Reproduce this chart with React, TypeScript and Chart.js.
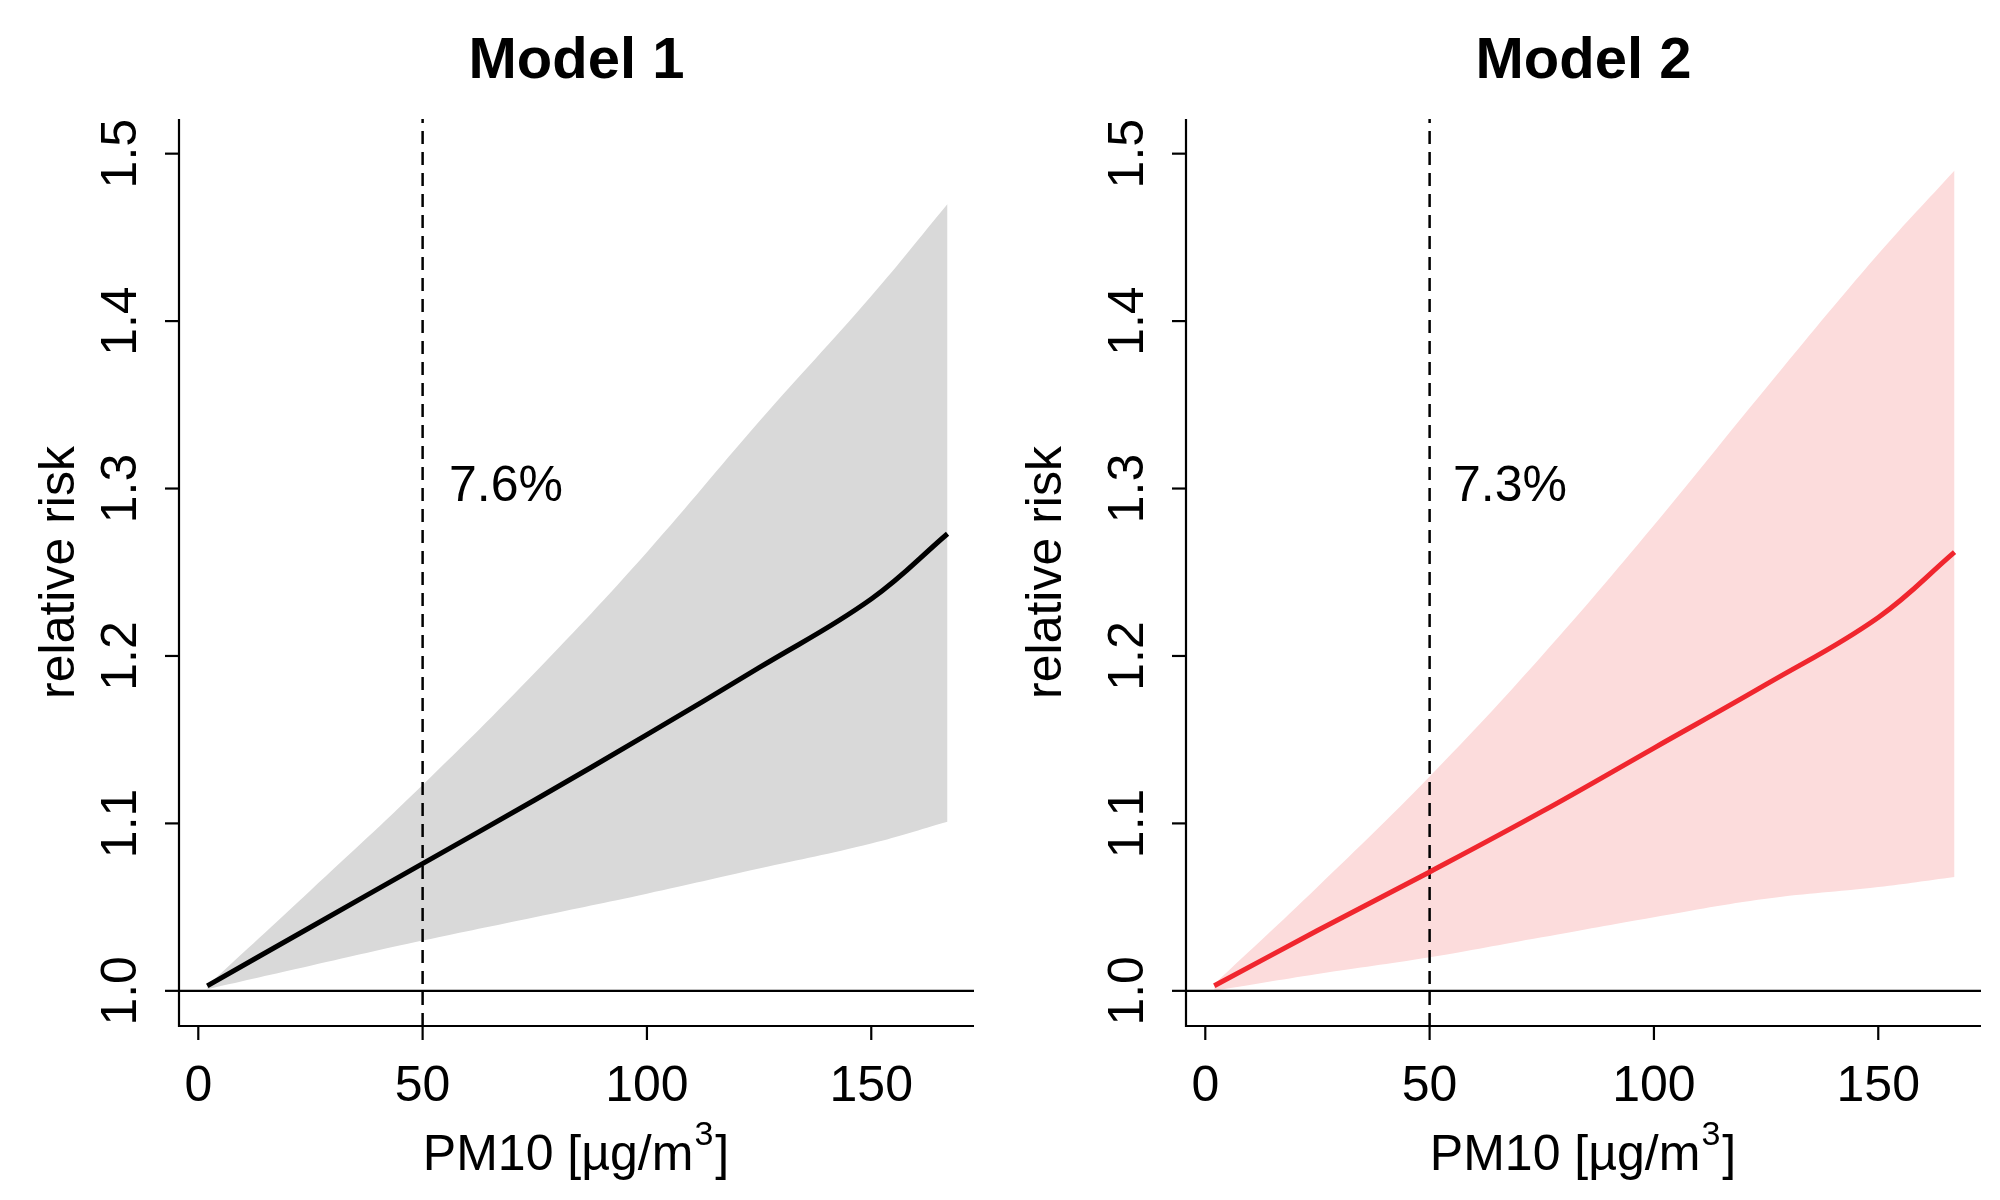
import React, { useEffect, useRef } from "react";
import { Chart, registerables } from "chart.js";
Chart.register(...registerables);

const xs = [2, 25, 50, 75, 100, 125, 150, 167];
const m1Mean = [1.003, 1.038, 1.076, 1.114, 1.153, 1.193, 1.234, 1.273];
const m1Upper = [1.003, 1.06, 1.123, 1.19, 1.262, 1.34, 1.415, 1.47];
const m1Lower = [1.001, 1.015, 1.03, 1.044, 1.058, 1.073, 1.088, 1.101];
const m2Mean = [1.003, 1.036, 1.071, 1.107, 1.145, 1.183, 1.223, 1.262];
const m2Upper = [1.004, 1.062, 1.128, 1.2, 1.278, 1.36, 1.44, 1.49];
const m2Lower = [1.0, 1.01, 1.02, 1.032, 1.044, 1.055, 1.062, 1.068];
const xTicks = [0, 50, 100, 150];
const yTicks = [1.0, 1.1, 1.2, 1.3, 1.4, 1.5];
const refX = 50;
const X_MIN = -4.3, X_MAX = 172.9, Y_MIN = 0.979, Y_MAX = 1.5207;

function Panel(props: { title: string; mean: number[]; up: number[]; lo: number[]; line: string; band: string; note: string; pad: any; ylabX: number; ytX: number; noteX: number }) {
  const ref = useRef<HTMLCanvasElement>(null);
  useEffect(() => {
    const pts = (a: number[]) => xs.map((x, i) => ({ x, y: a[i] }));
    const font = "50px 'Liberation Sans', Arial, sans-serif";
    const plugin = {
      id: "rstyle",
      afterDraw(c: any) {
        const ctx = c.ctx, xa = c.scales.x, ya = c.scales.y, a = c.chartArea;
        ctx.save();
        ctx.strokeStyle = "#000"; ctx.lineWidth = 2.2; ctx.fillStyle = "#000";
        ctx.beginPath();
        ctx.moveTo(a.left, a.top); ctx.lineTo(a.left, a.bottom); ctx.lineTo(a.right, a.bottom);
        ctx.stroke();
        ctx.font = font; ctx.textAlign = "center"; ctx.textBaseline = "middle";
        for (const t of xTicks) {
          const px = xa.getPixelForValue(t);
          ctx.beginPath(); ctx.moveTo(px, a.bottom); ctx.lineTo(px, a.bottom + 14); ctx.stroke();
          ctx.fillText(String(t), px, 1087);
        }
        for (const t of yTicks) {
          const py = ya.getPixelForValue(t);
          ctx.beginPath(); ctx.moveTo(a.left, py); ctx.lineTo(a.left - 14, py); ctx.stroke();
          ctx.save(); ctx.translate(props.ytX, py); ctx.rotate(-Math.PI / 2);
          ctx.fillText(t.toFixed(1), 0, 0); ctx.restore();
        }
        const base = "PM10 [\u00b5g/m";
        const w = ctx.measureText(base).width;
        ctx.font = "34px 'Liberation Sans', Arial, sans-serif";
        const w3 = ctx.measureText("3").width;
        ctx.font = font;
        const wb = ctx.measureText("]").width;
        const start = (a.left + a.right) / 2 - (w + w3 + wb + 4) / 2;
        ctx.textAlign = "left";
        ctx.fillText(base, start, 1156);
        ctx.font = "34px 'Liberation Sans', Arial, sans-serif";
        ctx.fillText("3", start + w + 1, 1136);
        ctx.font = font;
        ctx.fillText("]", start + w + w3 + 3, 1156);
        ctx.textAlign = "center";
        ctx.save(); ctx.translate(props.ylabX, (a.top + a.bottom) / 2); ctx.rotate(-Math.PI / 2);
        ctx.fillText("relative risk", 0, 0); ctx.restore();
        ctx.font = "bold 58px 'Liberation Sans', Arial, sans-serif";
        ctx.fillText(props.title, (a.left + a.right) / 2, 62);
        ctx.font = font; ctx.textAlign = "left";
        ctx.fillText(props.note, props.noteX, 487);
        ctx.restore();
      },
    };
    const ch = new Chart(ref.current!, {
      type: "line",
      data: {
        datasets: [
          { data: pts(props.lo), borderWidth: 0, pointRadius: 0, fill: false, backgroundColor: props.band, order: 4, tension: 0.4 } as any,
          { data: pts(props.up), borderWidth: 0, pointRadius: 0, fill: "-1", backgroundColor: props.band, order: 3, tension: 0.4 } as any,
          { data: [{ x: X_MIN, y: 1 }, { x: X_MAX, y: 1 }], borderColor: "#000", borderWidth: 2.2, pointRadius: 0, order: 2 } as any,
          { data: [{ x: refX, y: Y_MIN }, { x: refX, y: Y_MAX }], borderColor: "#000", borderWidth: 2.5, borderDash: [13, 8], pointRadius: 0, order: 1 } as any,
          { data: pts(props.mean), borderColor: props.line, borderWidth: 5, pointRadius: 0, order: 0, tension: 0.4 } as any,
        ],
      },
      options: {
        animation: false, responsive: false, events: [],
        layout: { padding: props.pad },
        plugins: { legend: { display: false }, tooltip: { enabled: false } },
        scales: {
          x: { type: "linear", min: X_MIN, max: X_MAX, display: false },
          y: { type: "linear", min: Y_MIN, max: Y_MAX, display: false },
        },
      },
      plugins: [plugin],
    });
    return () => ch.destroy();
  }, []);
  return <canvas ref={ref} width={1000} height={1200} style={{ width: 1000, height: 1200, display: "block" }} />;
}

export default function App() {
  return (
    <div style={{ position: "fixed", left: 0, top: 0, width: 2000, height: 1200, background: "#fff", display: "flex" }}>
      <Panel title="Model 1" mean={m1Mean} up={m1Upper} lo={m1Lower} line="#000000" band="#d9d9d9" note="7.6%"
        pad={{ left: 179, right: 26, top: 119, bottom: 174 }} ylabX={60} ytX={122} noteX={449} />
      <Panel title="Model 2" mean={m2Mean} up={m2Upper} lo={m2Lower} line="#f0262e" band="#fcdcdc" note="7.3%"
        pad={{ left: 186, right: 19, top: 119, bottom: 174 }} ylabX={47} ytX={129} noteX={453} />
    </div>
  );
}
